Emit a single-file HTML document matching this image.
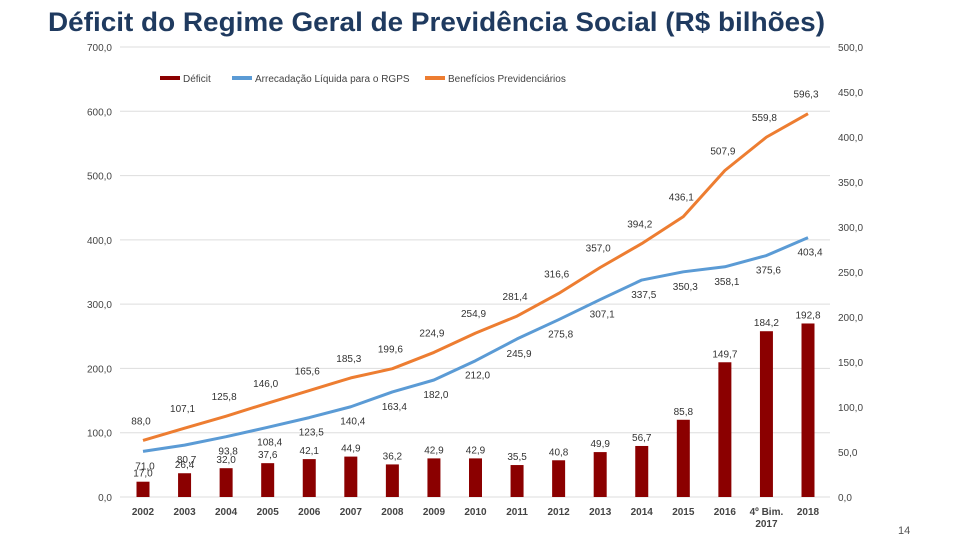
<!DOCTYPE html>
<html><head><meta charset="utf-8"><style>
body{margin:0;background:#fff;}
svg text{font-family:"Liberation Sans",sans-serif;}
</style></head><body>
<svg id="c" width="960" height="540">
<rect width="960" height="540" fill="#fff"/>
<text x="48" y="31" font-size="27" font-weight="bold" fill="#1f3a5f" textLength="777" lengthAdjust="spacingAndGlyphs">Déficit do Regime Geral de Previdência Social (R$ bilhões)</text>
<g id="g"></g>
<text x="898" y="534" font-size="11" fill="#555">14</text>
</svg>
<script>
const categories=["2002","2003","2004","2005","2006","2007","2008","2009","2010","2011","2012","2013","2014","2015","2016","4º Bim.|2017","2018"];
const deficit=[17.0,26.4,32.0,37.6,42.1,44.9,36.2,42.9,42.9,35.5,40.8,49.9,56.7,85.8,149.7,184.2,192.8];
const arrecadacao=[71.0,80.7,93.8,108.4,123.5,140.4,163.4,182.0,212.0,245.9,275.8,307.1,337.5,350.3,358.1,375.6,403.4];
const beneficios=[88.0,107.1,125.8,146.0,165.6,185.3,199.6,224.9,254.9,281.4,316.6,357.0,394.2,436.1,507.9,559.8,596.3];
const leftTicks=[0,100,200,300,400,500,600,700];
const rightTicks=[0,50,100,150,200,250,300,350,400,450,500];
const NS="http://www.w3.org/2000/svg";
const g=document.getElementById('g');
const x=i=>143+i*(665/16);
const yL=v=>497-v*(450/700);
const yR=v=>497-v*(450/500);
const fmt=v=>v.toFixed(1).replace('.',',');
function el(t,a){const e=document.createElementNS(NS,t);for(const k in a)e.setAttribute(k,a[k]);g.appendChild(e);return e;}
leftTicks.forEach(v=>{
 const l=el('line',{x1:120,x2:830,y1:yL(v),y2:yL(v),stroke:'#ddd','stroke-width':1});
 
 
 const t=el('text',{x:112,y:yL(v)+4,'font-size':10,'text-anchor':'end',fill:'#444'});t.textContent=fmt(v);
 
 
});
rightTicks.forEach(v=>{
 const t=el('text',{x:838,y:yR(v)+4,'font-size':10,fill:'#444'});t.textContent=fmt(v);
 
 
});
categories.forEach((c,i)=>{
 const parts=c.split('|');
 parts.forEach((p,j)=>{
  const t=el('text',{x:x(i),y:515+j*12,'font-size':10,'font-weight':'bold','text-anchor':'middle',fill:'#444'});t.textContent=p;
  
  
 });
});
deficit.forEach((v,i)=>{
 const r=el('rect',{x:x(i)-6.5,y:yR(v),width:13,height:497-yR(v),fill:'#8b0000'});
 
 
 const t=el('text',{x:x(i),y:yR(v)-5,'font-size':10,'text-anchor':'middle',fill:'#333'});t.textContent=fmt(v);
 
 
});
function line(arr,col,name,dy,dx){
 const p=el('polyline',{points:arr.map((v,i)=>x(i)+','+yL(v)).join(' '),fill:'none',stroke:col,'stroke-width':3,'stroke-linejoin':'round'});
 
 
 arr.forEach((v,i)=>{
  const t=el('text',{x:x(i)+dx,y:yL(v)+dy,'font-size':10,'text-anchor':'middle',fill:'#333'});t.textContent=fmt(v);
  
  
 });
}
line(arrecadacao,'#5b9bd5','line-arrecadacao',18,2);
line(beneficios,'#ed7d31','line-beneficios',-16,-2);
const leg=[['Déficit','#8b0000',160],['Arrecadação Líquida para o RGPS','#5b9bd5',232],['Benefícios Previdenciários','#ed7d31',425]];
leg.forEach(l=>{
 const r=el('rect',{x:l[2],y:76,width:20,height:4,fill:l[1]});
 
 
 const t=el('text',{x:l[2]+23,y:82,'font-size':10,fill:'#444'});t.textContent=l[0];
 
 
});
</script>
</body></html>
